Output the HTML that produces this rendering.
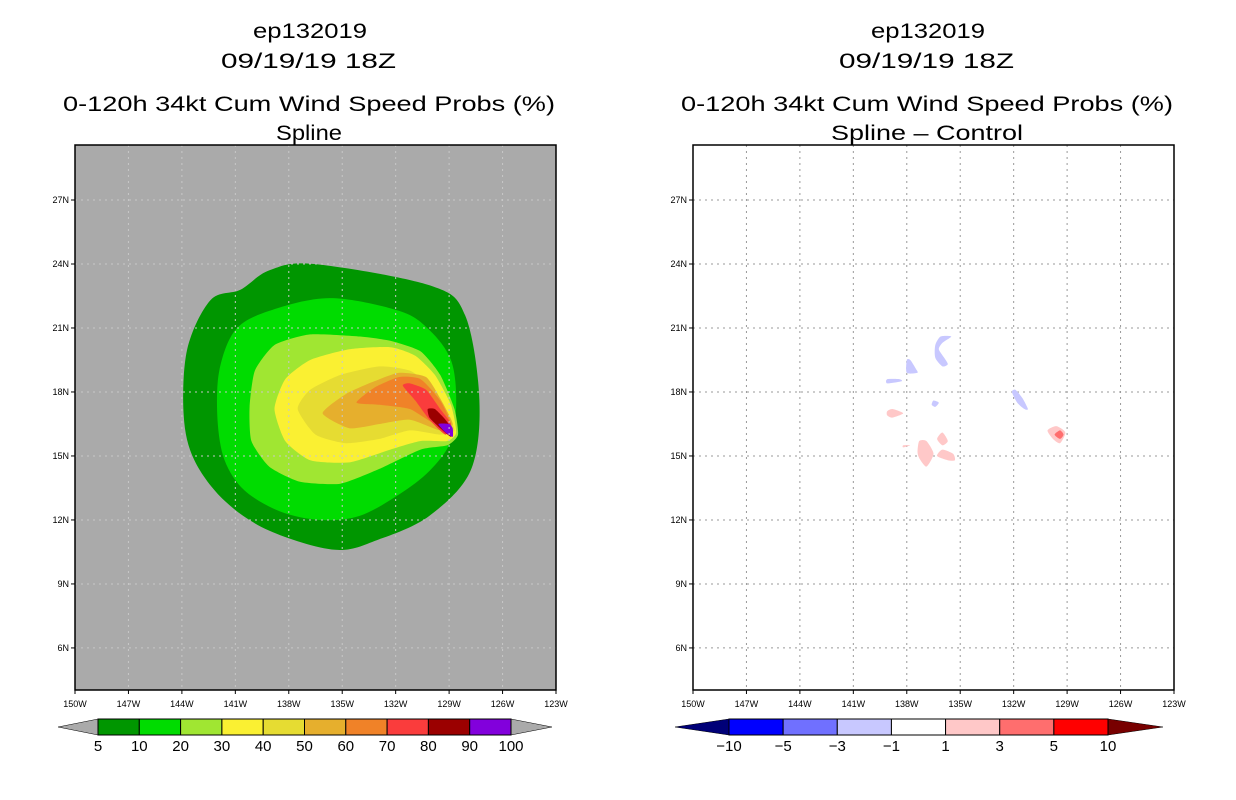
<!DOCTYPE html>
<html><head><meta charset="utf-8"><style>
body{margin:0;background:#fff}
svg{display:block;font-family:"Liberation Sans",sans-serif}
</style></head><body>
<svg id="s" width="1236" height="800" viewBox="0 0 1236 800">
<g font-size="21" fill="#000" lengthAdjust="spacingAndGlyphs">
<text x="253" y="38" textLength="114" lengthAdjust="spacingAndGlyphs">ep132019</text>
<text x="221" y="68" textLength="175" lengthAdjust="spacingAndGlyphs">09/19/19 18Z</text>
<text x="63" y="111" textLength="492" lengthAdjust="spacingAndGlyphs">0-120h 34kt Cum Wind Speed Probs (%)</text>
<text x="276" y="140" textLength="66" lengthAdjust="spacingAndGlyphs">Spline</text>
</g>
<g font-size="21" fill="#000">
<text x="871" y="38" textLength="114" lengthAdjust="spacingAndGlyphs">ep132019</text>
<text x="839" y="68" textLength="175" lengthAdjust="spacingAndGlyphs">09/19/19 18Z</text>
<text x="681" y="111" textLength="492" lengthAdjust="spacingAndGlyphs">0-120h 34kt Cum Wind Speed Probs (%)</text>
<text x="831" y="140" textLength="192" lengthAdjust="spacingAndGlyphs">Spline – Control</text>
</g>
<g id="L"></g>
<g id="R"></g>
<g id="CB"></g>
</svg>
<script>
const lonTicks=[150,147,144,141,138,135,132,129,126,123];
const latTicks=[27,24,21,18,15,12,9,6];
const leftLevels=["5","10","20","30","40","50","60","70","80","90","100"];
const leftColors=["#009600","#00dc00","#a0e632","#faf032","#e6dc32","#e6af2d","#f08228","#fa3c3c","#9b0000","#8200dc"];
const rightLevels=["−10","−5","−3","−1","1","3","5","10"];
const rightColors=["#0000ff","#7070ff","#c8c8ff","#ffffff","#ffc8c8","#ff6e6e","#ff0000"];
// contours (lonW, lat)
const c5=[[136.6,24.0],[130.1,23.0],[128.1,21.6],[127.3,17.6],[127.8,14.3],[130.1,12.2],[132.9,11.1],[135.4,10.6],[139.1,11.5],[141.6,12.9],[143.3,14.8],[143.9,16.9],[143.7,20.0],[142.4,22.3],[140.7,22.8],[139.1,23.7]];
const c10=[[135.7,22.4],[131.8,21.8],[130.1,20.9],[128.9,19.5],[128.6,17.6],[128.9,15.7],[130.1,14.3],[131.8,13.2],[134.0,12.2],[136.2,12.0],[138.5,12.4],[140.5,13.4],[141.6,14.8],[142.0,16.7],[141.9,19.0],[141.0,20.9],[139.1,21.8]];
const c20=[[140.2,17.3],[139.9,19.0],[138.8,20.2],[136.8,20.7],[134.0,20.6],[132.3,20.4],[130.6,19.9],[129.5,18.8],[128.7,17.2],[128.5,16.0],[129.1,15.5],[130.6,15.3],[132.9,14.4],[135.1,13.7],[137.4,13.8],[139.1,14.5],[140.1,15.7]];
const c30=[[138.8,17.2],[138.2,18.6],[136.8,19.5],[134.6,20.0],[132.3,20.1],[130.9,19.7],[129.8,18.8],[128.9,17.4],[128.6,16.1],[129.1,15.7],[130.6,15.7],[132.3,15.3],[134.6,14.7],[136.8,14.8],[138.2,15.7]];
const c40=[[137.5,17.2],[136.8,18.1],[135.1,18.8],[132.9,19.2],[131.2,19.0],[130.1,18.3],[129.2,17.2],[128.7,16.2],[129.5,16.0],[131.2,16.2],[132.9,15.8],[134.8,15.6],[136.5,16.0]];
const c50=[[136.1,17.0],[134.8,17.9],[133.2,18.5],[131.8,18.9],[130.3,18.7],[129.5,17.7],[128.8,16.5],[129.5,16.2],[131.2,16.7],[132.9,16.5],[134.6,16.3]];
const c60=[[134.2,17.5],[133.2,18.2],[131.8,18.7],[130.6,18.6],[129.5,17.6],[128.9,16.5],[129.8,16.5],[131.2,17.2],[132.9,17.4]];
const c70=[[131.6,18.3],[131.2,18.4],[130.3,18.1],[129.5,17.2],[128.9,16.5],[129.2,16.0],[130.1,16.7],[130.9,17.6]];
const c80=[[130.2,17.2],[129.8,17.2],[129.2,16.7],[128.8,16.2],[128.9,15.9],[129.5,16.3],[130.1,16.8]];
const c90=[[129.6,16.5],[129.0,16.5],[128.8,16.3],[128.8,15.9],[129.2,16.1]];
const leftContours=[c5,c10,c20,c30,c40,c50,c60,c70,c80,c90];
// difference blobs
const negBlobs=[
[[136.1,20.6],[135.5,20.6],[136.0,20.3],[136.2,20.0],[135.9,19.6],[135.7,19.3],[136.0,19.2],[136.4,19.6],[136.4,20.2]],
[[138.0,19.5],[137.8,19.5],[137.5,19.1],[137.4,18.9],[138.0,18.9]],
[[139.1,18.6],[138.4,18.6],[138.3,18.5],[139.1,18.4]],
[[136.5,17.6],[136.2,17.5],[136.4,17.3],[136.6,17.4]],
[[132.1,18.0],[131.9,18.1],[131.5,17.7],[131.2,17.2],[131.4,17.2],[131.8,17.5]]];
const posBlobs=[
[[139.1,17.1],[138.8,17.2],[138.2,17.0],[138.8,16.8],[139.1,16.9]],
[[137.3,15.7],[136.9,15.7],[136.5,15.1],[136.9,14.5],[137.3,14.9],[137.4,15.2]],
[[136.3,15.8],[136.0,16.1],[135.7,15.7],[136.0,15.5]],
[[136.3,15.0],[136.0,15.3],[135.4,15.1],[135.3,14.8],[135.7,14.8]],
[[138.2,15.5],[137.8,15.5],[138.2,15.4]],
[[130.1,16.2],[129.6,16.4],[129.1,16.1],[129.4,15.6],[129.8,15.8]]];
const pos3Blobs=[[[129.7,16.0],[129.4,16.2],[129.2,16.0],[129.4,15.8]]];

const NS="http://www.w3.org/2000/svg";
function mk(t,a,p){const e=document.createElementNS(NS,t);for(const k in a)e.setAttribute(k,a[k]);p.appendChild(e);return e;}
const W=481,T=145,H=545;
function xs(x0){return lw=>x0+(150-lw)*W/27;}
function ys(lat){return 200+(27-lat)*21.33;}
function smoothPath(P,t){
  const n=P.length;let d='M'+P[0][0].toFixed(1)+','+P[0][1].toFixed(1);
  for(let i=0;i<n;i++){
    const p0=P[(i-1+n)%n],p1=P[i],p2=P[(i+1)%n],p3=P[(i+2)%n];
    const c1=[p1[0]+(p2[0]-p0[0])*t,p1[1]+(p2[1]-p0[1])*t];
    const c2=[p2[0]-(p3[0]-p1[0])*t,p2[1]-(p3[1]-p1[1])*t];
    d+=' C'+c1.map(v=>v.toFixed(1)).join(',')+' '+c2.map(v=>v.toFixed(1)).join(',')+' '+p2.map(v=>v.toFixed(1)).join(',');
  }
  return d+'Z';
}
function poly(pts,x,p,fill,name,t){
  const P=pts.map(q=>[x(q[0]),ys(q[1])]);
  const e=mk('path',{d:smoothPath(P,t),fill:fill},p);
  
  return e;}
function panel(g,x0,bg){
  const r=mk('rect',{x:x0,y:T,width:W,height:H,fill:bg},g);
  
  
  return xs(x0);
}
function gridAxes(g,x0,gc){
  const x=xs(x0);
  const gg=mk('g',{stroke:gc,'stroke-width':1,'stroke-dasharray':'2,4'},g);
  
  
  lonTicks.slice(1,-1).forEach(l=>mk('line',{x1:x(l),x2:x(l),y1:T,y2:T+H},gg));
  latTicks.forEach(l=>mk('line',{x1:x0,x2:x0+W,y1:ys(l),y2:ys(l)},gg));
  const b=mk('rect',{x:x0,y:T,width:W,height:H,fill:'none',stroke:'#000','stroke-width':1.5},g);
  
  
  const ax=mk('g',{'font-size':9,fill:'#000'},g);
  
  
  lonTicks.forEach(l=>{mk('line',{x1:x(l),x2:x(l),y1:T+H,y2:T+H+4,stroke:'#000'},ax);
    const t=mk('text',{x:x(l),y:T+H+17,'text-anchor':'middle'},ax);t.textContent=l+'W';
    
    });
  latTicks.forEach(l=>{mk('line',{x1:x0-4,x2:x0,y1:ys(l),y2:ys(l),stroke:'#000'},ax);
    const t=mk('text',{x:x0-6,y:ys(l)+3,'text-anchor':'end'},ax);t.textContent=l+'N';
    
    });
}
const L=document.getElementById('L'),R=document.getElementById('R');
let xl=panel(L,75,'#aaaaaa');
leftContours.forEach((c,i)=>poly(c,xl,L,leftColors[i],'contour-'+leftLevels[i],i<2?0.16:0.1));
gridAxes(L,75,'#c8c8c8');
let xr=panel(R,693,'#ffffff');
gridAxes(R,693,'#999');
negBlobs.forEach(b=>poly(b,xr,R,'#c8c8ff','diff-negative',0.12));
posBlobs.forEach(b=>poly(b,xr,R,'#ffc8c8','diff-positive',0.12));
pos3Blobs.forEach(b=>poly(b,xr,R,'#ff6e6e','diff-positive-3',0.12));
// colorbars
const CB=document.getElementById('CB');
function cbar(x0,x1,t0,t1,cols,labs,lc,rc,name){
  const g=mk('g',{},CB);
  
  
  const y0=719,y1=735,ym=727,w=(x1-x0)/cols.length;
  mk('polygon',{points:`${t0},${ym} ${x0},${y0} ${x0},${y1}`,fill:lc,stroke:'#000','stroke-width':0.5},g);
  mk('polygon',{points:`${t1},${ym} ${x1},${y0} ${x1},${y1}`,fill:rc,stroke:'#000','stroke-width':0.5},g);
  cols.forEach((c,i)=>{const r=mk('rect',{x:x0+i*w,y:y0,width:w,height:y1-y0,fill:c,stroke:'#000','stroke-width':1},g);
    
    });
  labs.forEach((l,i)=>{const t=mk('text',{x:x0+i*w,y:751,'text-anchor':'middle','font-size':15},g);t.textContent=l;
    
    });
}
cbar(98,511,58,552,leftColors,leftLevels,'#aaaaaa','#aaaaaa','left-colorbar');
cbar(729,1108,675,1163,rightColors,rightLevels,'#000078','#780000','right-colorbar');
</script>
</body></html>
